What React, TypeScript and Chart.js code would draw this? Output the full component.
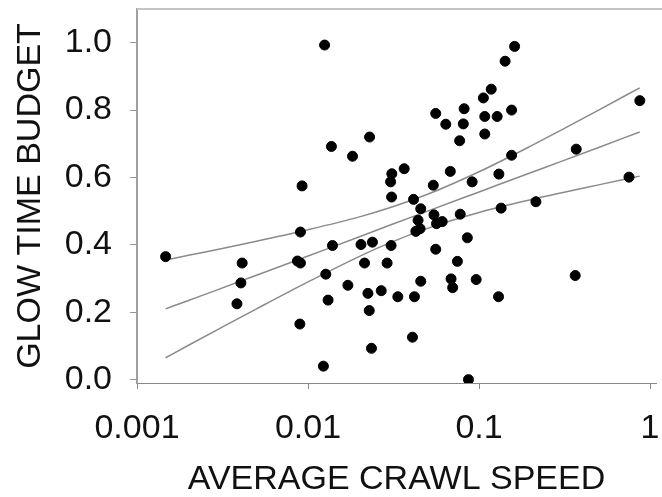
import React, { useEffect, useRef } from "react";
import { Chart, registerables } from "chart.js";

Chart.register(...registerables);

// Scatter data: average crawl speed (x) vs glow time budget (y)
const speedValues = [
  0.00147, 0.00412, 0.00405, 0.00384, 0.00923, 0.00903, 0.00867, 0.00903, 0.00896,
  0.0125, 0.0137, 0.0139, 0.0127, 0.0131, 0.0123, 0.0182, 0.0171, 0.0229, 0.0204,
  0.0238, 0.0214, 0.0224, 0.0228, 0.0235, 0.0309, 0.0304, 0.0308, 0.0306, 0.029,
  0.0268, 0.0335, 0.0365, 0.0414, 0.0456, 0.044, 0.0452, 0.0427, 0.0456, 0.0419,
  0.0408, 0.0545, 0.0564, 0.0609, 0.0558, 0.054, 0.0558, 0.0639, 0.0679, 0.0686,
  0.0701, 0.0747, 0.077, 0.0776, 0.0818, 0.0809, 0.0854, 0.0867, 0.0911, 0.0962,
  0.106, 0.108, 0.108, 0.1178, 0.1276, 0.1306, 0.1346, 0.13, 0.142, 0.155, 0.155,
  0.1614, 0.215, 0.37, 0.365, 0.753, 0.871,
];
const glowValues = [
  0.365, 0.346, 0.287, 0.225, 0.575, 0.438, 0.352, 0.346, 0.165,
  0.993, 0.692, 0.398, 0.313, 0.236, 0.04, 0.663, 0.28, 0.72, 0.401,
  0.408, 0.346, 0.256, 0.205, 0.093, 0.611, 0.587, 0.542, 0.398, 0.346,
  0.264, 0.246, 0.626, 0.535, 0.507, 0.473, 0.448, 0.44, 0.292, 0.246,
  0.126, 0.489, 0.463, 0.469, 0.387, 0.577, 0.79, 0.758, 0.618, 0.299,
  0.273, 0.351, 0.709, 0.491, 0.804, 0.759, 0.421, 0.0, 0.587, 0.297,
  0.836, 0.781, 0.729, 0.862, 0.781, 0.61, 0.509, 0.246, 0.945, 0.8, 0.666,
  0.989, 0.528, 0.684, 0.309, 0.601, 0.828,
];

// Regression line and confidence band
const curveX = [0.00147, 0.002, 0.003, 0.005, 0.01, 0.02, 0.03, 0.05, 0.1, 0.2, 0.3, 0.5, 0.87];
const fitY = [0.21, 0.235, 0.268, 0.31, 0.367, 0.424, 0.458, 0.5, 0.557, 0.614, 0.647, 0.689, 0.735];
const upperY = [0.355, 0.369, 0.387, 0.411, 0.445, 0.483, 0.51, 0.55, 0.617, 0.693, 0.74, 0.8, 0.866];
const lowerY = [0.065, 0.102, 0.15, 0.21, 0.29, 0.366, 0.406, 0.449, 0.496, 0.534, 0.554, 0.578, 0.604];

const xTickValues = [0.001, 0.01, 0.1, 1];
const xTickLabels = ["0.001", "0.01", "0.1", "1"];
const yTickValues = [0, 0.2, 0.4, 0.6, 0.8, 1.0];
const yTickLabels = ["0.0", "0.2", "0.4", "0.6", "0.8", "1.0"];

const xTitle = "AVERAGE CRAWL SPEED";
const yTitle = "GLOW TIME BUDGET";

const FONT = "'Liberation Sans', Arial, sans-serif";

const topBorder = {
  id: "topBorder",
  afterDraw(chart: any) {
    const { ctx, chartArea } = chart;
    ctx.save();
    ctx.strokeStyle = "#c4c4c4";
    ctx.lineWidth = 2;
    ctx.beginPath();
    ctx.moveTo(chartArea.left, chartArea.top);
    ctx.lineTo(chart.width, chartArea.top);
    ctx.stroke();
    ctx.restore();
  },
};

export default function App() {
  const ref = useRef<HTMLCanvasElement | null>(null);

  useEffect(() => {
    if (!ref.current) return;
    const points = speedValues.map((x, i) => ({ x, y: glowValues[i] }));
    const mk = (ys: number[]) => curveX.map((x, i) => ({ x, y: ys[i] }));
    const lineStyle = {
      type: "line" as const,
      showLine: true,
      pointRadius: 0,
      borderColor: "#8a8a8a",
      borderWidth: 1.5,
      cubicInterpolationMode: "monotone" as const,
      fill: false,
    };
    const chart = new Chart(ref.current, {
      type: "scatter",
      data: {
        datasets: [
          {
            data: points,
            backgroundColor: "#000",
            borderColor: "#000",
            pointRadius: 5,
            pointHoverRadius: 5,
          },
          { ...lineStyle, data: mk(upperY) },
          { ...lineStyle, data: mk(fitY) },
          { ...lineStyle, data: mk(lowerY) },
        ] as any,
      },
      options: {
        responsive: false,
        animation: false,
        devicePixelRatio: 1,
        layout: { padding: { top: 9, left: 0, right: 0, bottom: 0 } },
        plugins: { legend: { display: false }, tooltip: { enabled: false } },
        scales: {
          x: {
            type: "logarithmic",
            min: 0.001,
            max: 1.083,
            afterBuildTicks: (s: any) => {
              s.ticks = xTickValues.map((v) => ({ value: v }));
            },
            afterFit: (s: any) => {
              s.height = 114;
              s.paddingLeft = 0;
              s.paddingRight = 0;
            },
            ticks: {
              callback: (v: any) => {
                const i = xTickValues.findIndex((t) => Math.abs(t - v) < t * 1e-6);
                return i >= 0 ? xTickLabels[i] : "";
              },
              font: { family: FONT, size: 34 },
              color: "#111",
              padding: 19,
              maxRotation: 0,
              autoSkip: false,
            },
            grid: {
              drawOnChartArea: false,
              drawTicks: true,
              tickLength: 6,
              color: "#888",
            },
            border: { color: "#888", width: 1 },
            title: {
              display: true,
              text: xTitle,
              font: { family: FONT, size: 34, lineHeight: 1.0 },
              color: "#111",
              padding: { top: 0, bottom: 0 },
            },
          },
          y: {
            type: "linear",
            min: -0.01,
            max: 1.1,
            afterBuildTicks: (s: any) => {
              s.ticks = yTickValues.map((v) => ({ value: v }));
            },
            afterFit: (s: any) => {
              s.width = 137;
              s.paddingTop = 0;
              s.paddingBottom = 0;
            },
            ticks: {
              callback: (v: any) => {
                const i = yTickValues.findIndex((t) => Math.abs(t - v) < 1e-6);
                return i >= 0 ? yTickLabels[i] : "";
              },
              font: { family: FONT, size: 34 },
              color: "#111",
              padding: 18,
              autoSkip: false,
            },
            grid: {
              drawOnChartArea: false,
              drawTicks: true,
              tickLength: 7,
              color: "#999",
            },
            border: { color: "#a0a0a0", width: 2 },
            title: {
              display: true,
              text: yTitle,
              font: { family: FONT, size: 34, lineHeight: 1.0 },
              color: "#111",
              padding: { top: 14, bottom: 0 },
            },
          },
        },
      },
      plugins: [topBorder],
    });
    return () => chart.destroy();
  }, []);

  return (
    <div style={{ position: "fixed", left: 0, top: 0, width: 662, height: 497, background: "#fff" }}>
      <canvas ref={ref} width={662} height={497} style={{ width: 662, height: 497, display: "block" }} />
    </div>
  );
}
